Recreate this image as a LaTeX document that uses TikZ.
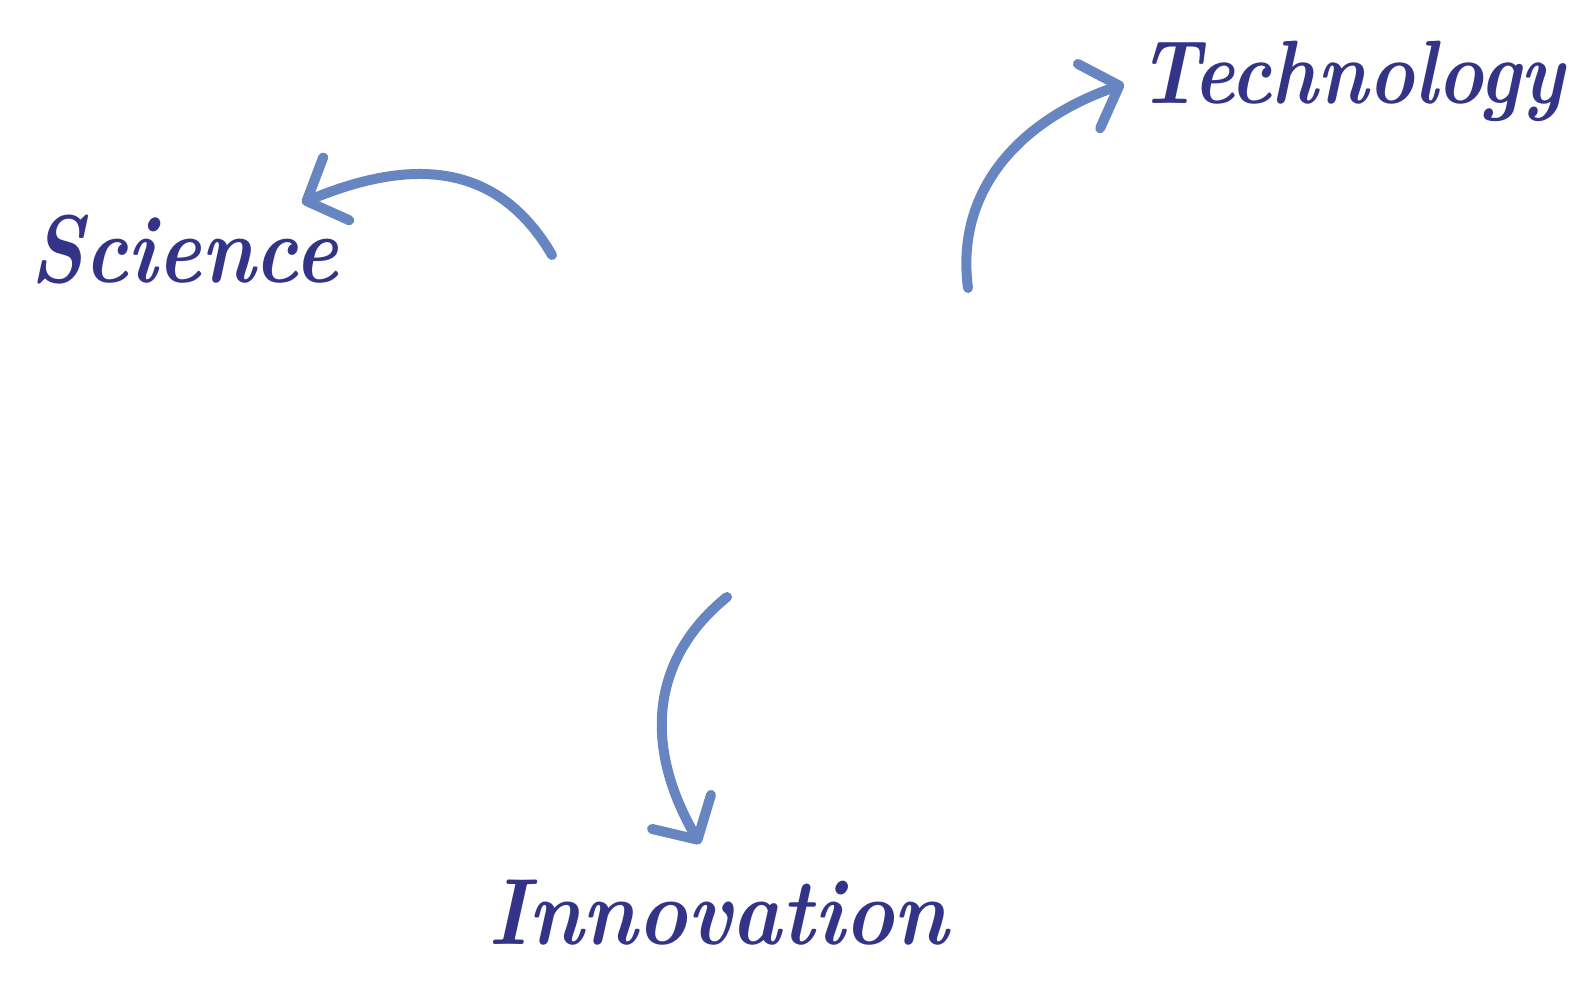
\documentclass[tikz,border=0pt]{standalone}
\usetikzlibrary{arrows.meta}
\definecolor{wordblue}{RGB}{51,51,136}
\definecolor{arrowblue}{RGB}{103,133,193}
\tikzset{
  word/.style={inner sep=0pt, anchor=base west, text=wordblue},
  curvearrow/.style={draw=arrowblue, line width=5pt, line cap=round, line join=round,
    -{Straight Barb[length=16pt,width=34pt,line cap=round,line join=round]}}
}
\begin{document}
\begin{tikzpicture}[x=0.5pt,y=-0.5pt]
\useasboundingbox (0,0) rectangle (1580,1000);
\node[word, font=\bfseries\itshape\fontsize{48}{58}\selectfont] (science) at (30,283) {\scalebox{0.86}[1]{Science}};
\node[word, font=\bfseries\itshape\fontsize{45}{54}\selectfont] (technology) at (1138,104) {\scalebox{0.865}[1]{Technology}};
\node[word, font=\bfseries\itshape\fontsize{47}{56}\selectfont] (innovation) at (488,944) {\scalebox{0.895}[1]{Innovation}};
\coordinate (a1s) at (552,255);
\coordinate (a1e) at (302,203);
\coordinate (a2s) at (968,288);
\coordinate (a2e) at (1124,84);
\coordinate (a3s) at (727,597);
\coordinate (a3e) at (700,844);
\draw[curvearrow] (a1s) .. controls (505,175) and (430,150) .. (a1e);
\draw[curvearrow] (a2s) .. controls (955,190) and (1020,120) .. (a2e);
\draw[curvearrow] (a3s) .. controls (655,655) and (640,740) .. (a3e);
\end{tikzpicture}
\end{document}
